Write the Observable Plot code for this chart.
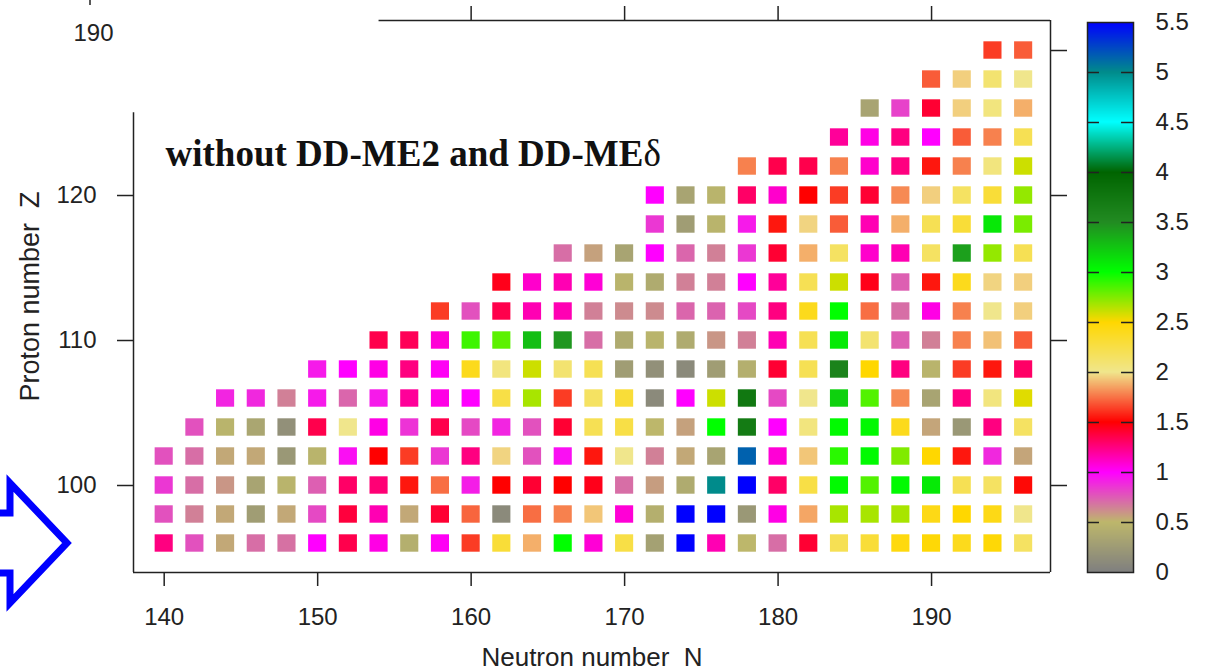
<!DOCTYPE html>
<html><head><meta charset="utf-8">
<script src="https://cdn.jsdelivr.net/npm/d3@7"></script>
<script src="https://cdn.jsdelivr.net/npm/@observablehq/plot@0.6"></script>
<style>
body{margin:0;background:#fff;}
#wrap{position:relative;width:1209px;height:671px;overflow:hidden;background:#fff;}
#wrap svg{position:absolute;overflow:visible;}
</style></head><body><div id="wrap"></div>
<script>
// ---- data ----
const protonZ = [96,98,100,102,104,106,108,110,112,114,116,118,120,122,124,126,128,130];
const firstN  = [140,140,140,140,142,144,150,154,158,162,166,172,172,178,184,186,190,194];
const z096 = [1.25,0.78,0.54,0.7,0.69,1.0,1.35,1.05,0.43,1.02, 1.63,2.3,1.88,3.0,1.08,2.25,0.3,5.5,1.15,0.5, 0.7,1.4,2.2,2.3,2.45,2.48,2.4,2.48,2.15];
const z098 = [0.78,0.65,0.54,0.27,0.54,0.8,1.38,1.15,0.54,1.4, 1.72,0.1,1.74,1.78,1.93,1.08,0.43,5.5,5.5,0.22, 1.05,1.86,2.67,2.67,2.67,2.42,2.5,2.42,2.0];
const z100 = [0.85,0.7,0.59,0.33,0.47,0.74,1.3,1.27,1.55,1.74, 0.92,1.5,1.4,1.5,1.45,0.7,0.57,0.39,5.0,5.5, 1.3,2.25,3.02,2.84,3.02,3.09,2.2,2.15,1.52];
const z102 = [0.78,0.7,0.54,0.54,0.22,0.47,0.96,1.5,1.63,0.85, 1.25,1.96,0.78,0.96,1.55,2.0,0.65,0.54,0.33,5.15, 1.08,1.93,2.92,3.02,2.75,2.5,1.55,0.89,0.55];
const z104 = [0.78,0.47,0.35,0.15,1.35,2.0,1.05,0.86,1.35, 0.8,0.9,0.78,1.4,2.2,2.25,0.5,0.56,3.0,3.7, 1.0,2.05,3.02,3.03,2.4,0.55,0.22,1.25,2.15];
const z106 = [0.9,0.89,0.65,0.93,0.72,0.93,1.2,1.05, 1.0,2.25,2.67,1.63,2.15,2.3,0.1,1.0,2.6,3.75, 0.8,2.0,3.2,2.84,1.8,0.33,1.25,2.05,2.56];
const z108 = [0.93,1.0,1.05,1.25,1.02, 2.4,2.05,2.6,2.1,2.2,0.27,0.15,0.1,0.27,0.43, 1.4,2.2,3.6,2.5,1.25,0.47,1.63,1.55,1.3];
const z110 = [1.35,1.33,1.08, 2.88,2.82,3.28,3.45,0.7,0.39,0.47,0.39,0.59,0.65, 1.15,2.2,3.09,2.1,0.74,0.65,1.78,1.92,1.7];
const z112 = [1.63, 0.78,1.35,1.15,1.15,0.65,0.62,0.62,0.72,0.73,0.8, 1.25,2.4,3.0,1.74,0.7,1.05,1.78,2.0,1.95];
const z114 = [1.45,1.1,1.15,1.08,0.47,0.39,0.65,0.65,1.0, 1.2,2.2,2.6,1.45,0.74,1.55,2.4,1.96,1.95];
const z116 = [0.7,0.56,0.33,1.0,0.72,0.65,0.85, 1.4,1.88,2.15,1.1,1.15,2.15,3.41,2.71,2.2];
const z118 = [0.85,0.27,0.47,0.93, 1.55,1.96,1.7,1.15,1.88,2.2,2.3,3.1,2.76];
const z120 = [1.0,0.33,0.47,1.3, 1.1,1.5,1.63,1.4,1.8,1.95,2.15,2.3,2.71];
const z122 = [1.78, 1.35,1.35,1.78,1.1,1.25,1.55,1.78,2.05,2.6];
const z124 = [1.2,1.05,1.25,1.0,1.7,1.78,2.2];
const z126 = [0.33,0.82,1.4,1.95,2.05,1.88];
const z128 = [1.7,1.95,2.1,2.0];
const z130 = [1.63,1.7];
const rows = [z096,z098,z100,z102,z104,z106,z108,z110,z112,z114,z116,z118,z120,z122,z124,z126,z128,z130];

const xTicks = [140,150,160,170,180,190];
const yTicks = [100,110,120];
const topTicks = [160,170,180,190];
const rightTicks = [100,110,120,130];
const colorStops = [0,0.5,1,1.5,2,2.5,3,3.5,4,4.5,5,5.5];
const colorList = ["#7f7f7f","#bdb76b","#ff00ff","#ff0000","#f0e68c","#ffd700","#00ff00","#228b22","#006400","#00ffff","#008b8b","#0000ff"];
const cbTicks = [0.5,1,1.5,2,2.5,3,3.5,4,4.5,5];
const cbLabels = [0,0.5,1,1.5,2,2.5,3,3.5,4,4.5,5,5.5];
const titleText = "without DD-ME2 and DD-MEδ";
const xLabel = "Neutron number  N";
const yLabel = "Proton number  Z";
const cornerLabel = ["190"];

// ---- table ----
const cells = [];
rows.forEach((vals, i) => vals.forEach((v, j) => cells.push({N: firstN[i] + 2*j, Z: protonZ[i], v})));

const color = {type: "linear", domain: colorStops, range: colorList, interpolate: "rgb"};
const ink = "#222";
const sans = "Liberation Sans, Arial, sans-serif";

const xDom = [138, 197.75], yDom = [94, 132.07];
const main = Plot.plot({
  width: 1209, height: 671,
  marginLeft: 133, marginRight: 159, marginTop: 20, marginBottom: 99,
  x: {domain: xDom},
  y: {domain: yDom},
  color,
  style: {fontFamily: sans, fontSize: "24px", color: ink, background: "transparent"},
  marks: [
    Plot.rect(cells, {x1: d => d.N - 0.59, x2: d => d.N + 0.59, y1: d => d.Z - 0.6, y2: d => d.Z + 0.6, fill: "v"}),
    Plot.ruleY([yDom[0]], {stroke: ink, strokeWidth: 1.5}),
    Plot.ruleX([xDom[1]], {stroke: ink, strokeWidth: 1.5}),
    Plot.ruleX([xDom[0]], {y1: yDom[0], y2: 125.7, stroke: ink, strokeWidth: 1.5}),
    Plot.ruleY([yDom[1]], {x1: 154, x2: xDom[1], stroke: ink, strokeWidth: 1.5}),
    Plot.axisX({anchor: "bottom", ticks: xTicks, tickSize: 14, tickPadding: 21, label: null, strokeWidth: 1.5}),
    Plot.axisY({anchor: "left", ticks: yTicks, tickSize: 16, tickPadding: 21, label: null, strokeWidth: 1.5}),
    Plot.axisX({anchor: "top", ticks: topTicks, tickSize: 15, tickFormat: () => "", label: null, strokeWidth: 1.5}),
    Plot.axisY({anchor: "right", ticks: rightTicks, tickSize: 16, tickFormat: () => "", label: null, strokeWidth: 1.5}),
    Plot.text([xLabel], {text: d => d, frameAnchor: "bottom", dy: 85, textAnchor: "middle", lineAnchor: "middle", fontSize: 26, fill: ink}),
    Plot.text([yLabel], {text: d => d, frameAnchor: "left", dx: -103, rotate: -90, textAnchor: "middle", lineAnchor: "middle", fontSize: 27, fill: ink}),
    Plot.text(cornerLabel, {text: d => d, frameAnchor: "top-left", dx: -20, dy: 13, textAnchor: "end", lineAnchor: "middle", fontSize: 24, fill: ink}),
    Plot.text([titleText], {text: d => d, frameAnchor: "top-left", dx: 32, dy: 145, textAnchor: "start", lineAnchor: "bottom",
      fontFamily: "Liberation Serif, Times New Roman, serif", fontWeight: "bold", fontSize: 37, fill: "#111"})
  ]
});

// delta in normal weight
d3.select(main).selectAll("text").filter(function(){ return this.textContent === titleText; }).each(function(){
  const t = d3.select(this);
  t.text(titleText.slice(0, -1));
  t.append("tspan").attr("font-weight", "normal").text(titleText.slice(-1));
});

// colour bar
const ramp = d3.range(0, 5.5, 0.01);
const bar = Plot.plot({
  width: 149, height: 671,
  marginLeft: 27, marginRight: 76, marginTop: 22, marginBottom: 99,
  x: {domain: [0, 1], axis: null},
  y: {domain: [0, 5.5], axis: null},
  color,
  style: {fontFamily: sans, fontSize: "24px", color: ink, background: "transparent"},
  marks: [
    Plot.rect(ramp, {x1: 0, x2: 1, y1: d => d, y2: d => Math.min(5.5, d + 0.015), fill: d => d + 0.005}),
    Plot.ruleY(cbTicks, {x1: 0, x2: 0.26, stroke: ink, strokeWidth: 1.5}),
    Plot.ruleY(cbTicks, {x1: 0.74, x2: 1, stroke: ink, strokeWidth: 1.5}),
    Plot.frame({stroke: ink, strokeWidth: 1.5}),
    Plot.axisY({anchor: "right", ticks: cbLabels, tickSize: 0, tickPadding: 22, tickFormat: d => String(d), label: null})
  ]
});

const wrap = document.getElementById("wrap");
main.style.left = "0px"; main.style.top = "0px";
bar.style.left = "1060px"; bar.style.top = "0px";
wrap.appendChild(main);
wrap.appendChild(bar);

// decorative arrow and stray tick from the neighbouring panel
const deco = d3.create("svg").attr("width", 1209).attr("height", 671).style("left", "0px").style("top", "0px").style("pointer-events", "none");
deco.append("path")
  .attr("d", "M-10,513 L10,513 L10,483 L67,543 L10,603 L10,573 L-10,573 Z")
  .attr("fill", "none").attr("stroke", "#0000ff").attr("stroke-width", 7).attr("stroke-linejoin", "miter");
deco.append("line").attr("x1", 90).attr("x2", 90).attr("y1", 0).attr("y2", 5).attr("stroke", ink).attr("stroke-width", 1.5);
wrap.appendChild(deco.node());
</script></body></html>
